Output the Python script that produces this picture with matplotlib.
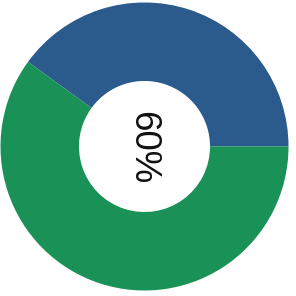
import matplotlib
matplotlib.use('Agg')
import matplotlib.pyplot as plt

labels = ['other', 'share']
values = [40, 60]
colors = ['#2b5b8c', '#1a9257']
center_text = '60%'

fig = plt.figure(figsize=(2.96, 2.96), dpi=100)
ax = fig.add_axes([0, 0, 1, 1])

ax.pie(values, colors=colors, startangle=0, counterclock=True,
       radius=1.0, wedgeprops=dict(width=0.545, linewidth=0))
ax.text(-0.01, -0.01, center_text, rotation=-90, ha='center', va='center',
        fontsize=26.5, family=['Liberation Sans', 'DejaVu Sans'], color='#111111')

ax.set_xlim(-1.0035, 1.052)
ax.set_ylim(-1.038, 1.017)
ax.set_aspect('equal')
ax.axis('off')

fig.savefig('out.png', dpi=100)
